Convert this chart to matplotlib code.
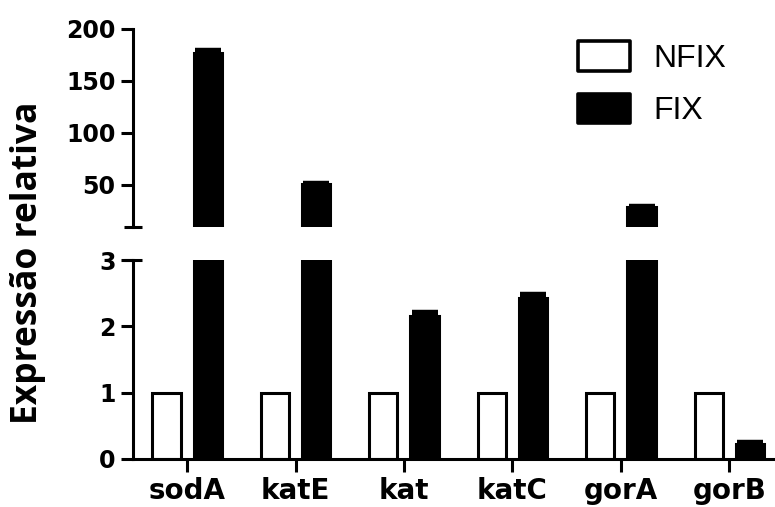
import matplotlib
matplotlib.use("Agg")
import matplotlib.pyplot as plt
import numpy as np

genes = ["sodA", "katE", "kat", "katC", "gorA", "gorB"]
nfix = [1, 1, 1, 1, 1, 1]
fix = [177, 51, 2.15, 2.42, 29, 0.23]
fix_err = [3, 1, 0.06, 0.06, 1, 0.02]
upper_ticks = [50, 100, 150, 200]
lower_ticks = [0, 1, 2, 3]

W, H = 775, 507
fig = plt.figure(figsize=(W / 100, H / 100), dpi=100)

def px_axes(x0, y0, x1, y1):
    return fig.add_axes([x0 / W, 1 - y1 / H, (x1 - x0) / W, (y1 - y0) / H])

ax_top = px_axes(133, 29, 775, 226.6)
ax_bot = px_axes(133, 260, 775, 459)

x = np.arange(len(genes))
bw = 0.26
off = 0.19
lw = 2.2

for ax in (ax_top, ax_bot):
    ax.bar(x - off, nfix, bw, color="white", edgecolor="black", linewidth=lw,
           label="NFIX", zorder=2)
    ax.bar(x + off, fix, bw, color="black", edgecolor="black", linewidth=lw,
           label="FIX", zorder=2)
    _, caps, _ = ax.errorbar(x + off, fix, yerr=[np.zeros(len(fix)), fix_err],
                             fmt="none", ecolor="black", elinewidth=2,
                             capsize=9.5, capthick=3.2, zorder=3)
    for c in caps:
        c.set_solid_capstyle("round")
    ax.set_xlim(-0.498, 5.42)
    ax.spines["top"].set_visible(False)
    ax.spines["right"].set_visible(False)
    ax.spines["left"].set_linewidth(lw)
    ax.spines["bottom"].set_linewidth(lw)
    ax.tick_params(axis="y", length=9, width=lw, pad=3.5)
    ax.tick_params(axis="x", length=9, width=lw, pad=4)

ax_top.set_ylim(10, 200)
ax_top.set_yticks(upper_ticks)
ax_top.spines["bottom"].set_visible(False)
ax_top.set_xticks([])

ax_bot.set_ylim(0, 3)
ax_bot.set_yticks(lower_ticks)
ax_bot.set_xticks(x)
ax_bot.set_xticklabels(genes, family="DejaVu Sans", weight="bold", size=20)

for ax in (ax_top, ax_bot):
    for lab in ax.get_yticklabels():
        lab.set_fontfamily("DejaVu Sans")
        lab.set_fontweight("bold")
        lab.set_fontsize(17)

# break marks on the y axis
d = 9 / 642
ax_top.plot([-d, d], [0, 0], transform=ax_top.transAxes, color="black",
            lw=lw, clip_on=False, solid_capstyle="butt")
ax_bot.plot([-d, d], [1, 1], transform=ax_bot.transAxes, color="black",
            lw=lw, clip_on=False, solid_capstyle="butt")

fig.text(28 / W, 1 - 263 / H, "Expressão relativa", rotation=90,
         ha="center", va="center", family="Open Sans", weight="bold", size=25.5)

leg = ax_top.legend(loc="upper left", bbox_to_anchor=(578 / W, 1 - 41 / H),
                    bbox_transform=fig.transFigure, frameon=False,
                    prop=dict(family="Liberation Sans", size=23),
                    handlelength=1.62, handleheight=1.05, handletextpad=0.75,
                    labelspacing=0.62, borderpad=0, borderaxespad=0)
for p in leg.get_patches():
    p.set_linewidth(2.6)
    p.set_joinstyle("round")

fig.savefig("out.png", dpi=100)
